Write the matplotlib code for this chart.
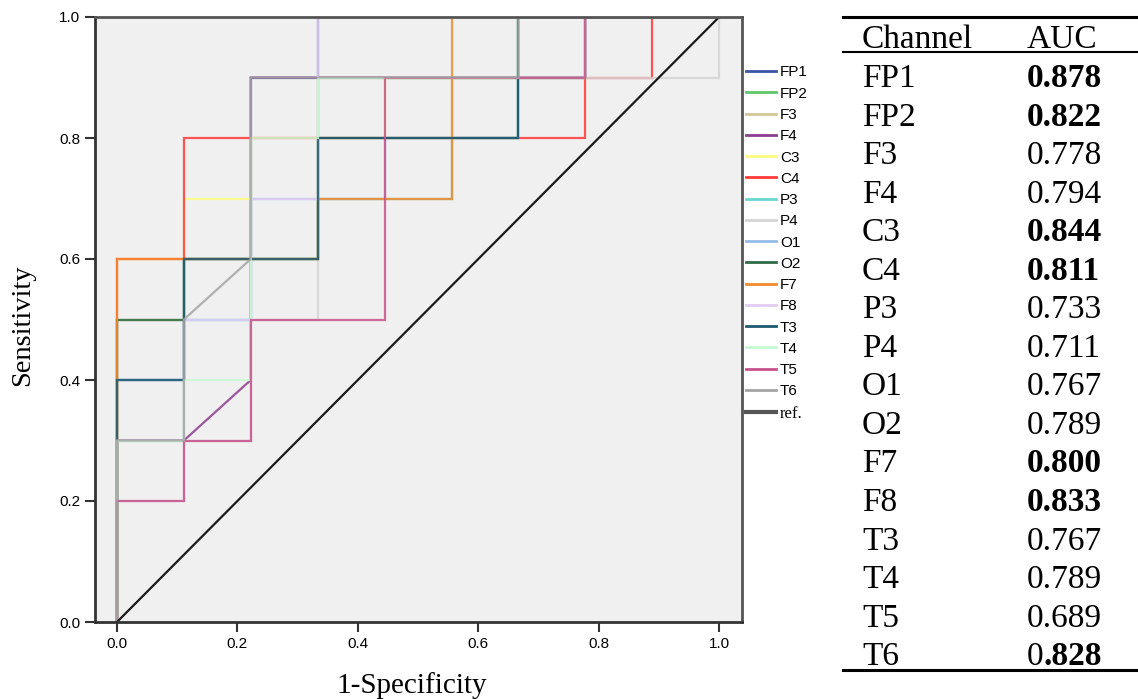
import matplotlib
matplotlib.use("Agg")
import matplotlib.pyplot as plt
from matplotlib.lines import Line2D

# ---- data (ROC step points; FP counts out of 9 negatives, TP counts out of 10 positives)
channels = ["FP1", "FP2", "F3", "F4", "C3", "C4", "P3", "P4",
            "O1", "O2", "F7", "F8", "T3", "T4", "T5", "T6"]
n_neg = 9
n_pos = 10

fp_FP1 = [0, 0, 1, 1, 2, 2, 3, 3, 9]
tp_FP1 = [0, 4, 4, 6, 6, 9, 9, 10, 10]
fp_FP2 = [0, 0, 1, 1, 3, 3, 6, 6, 9]
tp_FP2 = [0, 5, 5, 6, 6, 9, 9, 10, 10]
fp_F3 = [0, 0, 1, 1, 3, 3, 5, 5, 6, 6, 9]
tp_F3 = [0, 5, 5, 6, 6, 7, 7, 9, 9, 10, 10]
fp_F4 = [0, 0, 1, 2, 2, 7, 7, 9]
tp_F4 = [0, 3, 3, 4, 9, 9, 10, 10]
fp_C3 = [0, 0, 1, 1, 2, 2, 4, 4, 7, 7, 9]
tp_C3 = [0, 6, 6, 7, 7, 8, 8, 9, 9, 10, 10]
fp_C4 = [0, 0, 1, 1, 7, 7, 8, 8, 9]
tp_C4 = [0, 6, 6, 8, 8, 9, 9, 10, 10]
fp_P3 = [0, 0, 1, 1, 2, 2, 3, 3, 5, 5, 6, 6, 9]
tp_P3 = [0, 3, 3, 5, 5, 6, 6, 7, 7, 8, 8, 10, 10]
fp_P4 = [0, 0, 1, 1, 2, 2, 3, 3, 9, 9]
tp_P4 = [0, 2, 2, 3, 3, 5, 5, 9, 9, 10]
fp_O1 = [0, 0, 1, 1, 2, 2, 4, 4, 6, 6, 9]
tp_O1 = [0, 4, 4, 5, 5, 7, 7, 8, 8, 10, 10]
fp_O2 = [0, 0, 1, 1, 3, 3, 6, 6, 9]
tp_O2 = [0, 5, 5, 6, 6, 8, 8, 10, 10]
fp_F7 = [0, 0, 3, 3, 5, 5, 9]
tp_F7 = [0, 6, 6, 7, 7, 10, 10]
fp_F8 = [0, 0, 1, 1, 2, 2, 3, 3, 9]
tp_F8 = [0, 3, 3, 5, 5, 7, 7, 10, 10]
fp_T3 = [0, 0, 1, 1, 3, 3, 6, 6, 7, 7, 9]
tp_T3 = [0, 4, 4, 6, 6, 8, 8, 9, 9, 10, 10]
fp_T4 = [0, 0, 1, 1, 2, 2, 3, 3, 7, 7, 9]
tp_T4 = [0, 3, 3, 4, 4, 8, 8, 9, 9, 10, 10]
fp_T5 = [0, 0, 1, 1, 2, 2, 4, 4, 7, 7, 9]
tp_T5 = [0, 2, 2, 3, 3, 5, 5, 9, 9, 10, 10]
fp_T6 = [0, 0, 1, 1, 2, 2, 6, 6, 9]
tp_T6 = [0, 3, 3, 5, 6, 9, 9, 10, 10]

fp_lists = [fp_FP1, fp_FP2, fp_F3, fp_F4, fp_C3, fp_C4, fp_P3, fp_P4,
            fp_O1, fp_O2, fp_F7, fp_F8, fp_T3, fp_T4, fp_T5, fp_T6]
tp_lists = [tp_FP1, tp_FP2, tp_F3, tp_F4, tp_C3, tp_C4, tp_P3, tp_P4,
            tp_O1, tp_O2, tp_F7, tp_F8, tp_T3, tp_T4, tp_T5, tp_T6]

auc_values = ["0.878", "0.822", "0.778", "0.794", "0.844", "0.811", "0.733", "0.711",
              "0.767", "0.789", "0.800", "0.833", "0.767", "0.789", "0.689", "0.828"]
auc_bold = [True, True, False, False, True, True, False, False,
            False, False, True, True, False, False, False, True]

ref_x = [0, 1]
ref_y = [0, 1]
xticks = [0.0, 0.2, 0.4, 0.6, 0.8, 1.0]
yticks = [0.0, 0.2, 0.4, 0.6, 0.8, 1.0]

colors = ["#3a53a4", "#5cc86a", "#d2c79a", "#8b3d8e", "#fdfb80", "#ff3838",
          "#6ad6d0", "#d4d4d4", "#94bce8", "#2e6c48", "#f28a2e", "#e2ccf2",
          "#1e5a70", "#c8f8d2", "#c8508c", "#a4a4a4"]

# ---- figure
W, H = 1138, 699
fig = plt.figure(figsize=(W / 100, H / 100), dpi=100)
ax = fig.add_axes([95 / W, 1 - 622 / H, (742 - 95) / W, (622 - 17) / H])
ax.set_facecolor("#f0f0f0")

for name, fp, tp, c in zip(channels, fp_lists, tp_lists, colors):
    xs = [v / n_neg for v in fp]
    ys = [v / n_pos for v in tp]
    ax.plot(xs, ys, color=c, lw=1.6, alpha=0.85, solid_joinstyle="miter", label=name)

ax.plot(ref_x, ref_y, color="#1a1a1a", lw=1.6, label="ref.")

ax.set_xlim(-0.0365, 1.038)
ax.set_ylim(0, 1.0)
ax.set_xticks(xticks)
ax.set_yticks(yticks)
ax.set_xticklabels([f"{t:.1f}" for t in xticks], fontname="Liberation Sans", fontsize=11)
ax.set_yticklabels([f"{t:.1f}" for t in yticks], fontname="Liberation Sans", fontsize=11)
ax.tick_params(direction="out", length=7, width=1.5, color="#333333", pad=3.5)
for side in ["left", "bottom"]:
    ax.spines[side].set_linewidth(2)
    ax.spines[side].set_color("#333333")
for side in ["top", "right"]:
    ax.spines[side].set_linewidth(2)
    ax.spines[side].set_color("#555555")

ax.set_xlabel("1-Specificity", fontname="Liberation Serif", fontsize=21)
ax.set_ylabel("Sensitivity", fontname="Liberation Serif", fontsize=20.5)
ax.xaxis.set_label_coords((412 - 95) / 647, (622 - 672) / 605)
ax.yaxis.set_label_coords((35 - 95) / 647, (622 - 325) / 605)

# legend
handles = [Line2D([0], [0], color=c, lw=2) for c in colors]
handles.append(Line2D([0], [0], color="#555555", lw=3))
labels = channels + ["ref."]
leg = fig.legend(handles, labels, loc="upper left", bbox_to_anchor=(746 / W, 1 - 65.5 / H),
                 frameon=False, prop={"family": "Liberation Sans", "size": 11},
                 handlelength=1.96, handletextpad=0.26, labelspacing=0.475,
                 borderaxespad=0, borderpad=0)
leg.get_texts()[-1].set_fontfamily("Liberation Serif")
leg.get_texts()[-1].set_fontsize(12)

# ---- AUC table
tx0, tx1 = 843 / W, 1.0
fig.add_artist(Line2D([tx0, tx1], [1 - 17 / H, 1 - 17 / H], color="black", lw=2.2))
fig.add_artist(Line2D([tx0, tx1], [1 - 52 / H, 1 - 52 / H], color="black", lw=1.5))
fig.add_artist(Line2D([tx0, tx1], [1 - 670 / H, 1 - 670 / H], color="black", lw=2.2))

fs = 24
serif = "Liberation Serif"
base0 = 48
base1 = 87
row_dy = 38.55
fig.text(862 / W, 1 - base0 / H, "Channel", fontname=serif, fontsize=fs, va="baseline")
fig.text(1027 / W, 1 - base0 / H, "AUC", fontname=serif, fontsize=fs, va="baseline")
for i, (ch, val, b) in enumerate(zip(channels, auc_values, auc_bold)):
    y = 1 - (base1 + row_dy * i) / H
    fig.text(862 / W, y, ch, fontname=serif, fontsize=fs, va="baseline")
    if ch == "T6":
        t0 = fig.text(1027 / W, y, val[0], fontname=serif, fontsize=fs, va="baseline")
        ax.annotate(val[1:], xy=(1, 0), xycoords=t0, xytext=(0, 0),
                    textcoords="offset points", fontname=serif, fontsize=fs,
                    fontweight="bold", ha="left", va="bottom", annotation_clip=False)
    else:
        fig.text(1027 / W, y, val, fontname=serif, fontsize=fs, va="baseline",
                 fontweight="bold" if b else "normal")

fig.savefig("out.png", dpi=100)
